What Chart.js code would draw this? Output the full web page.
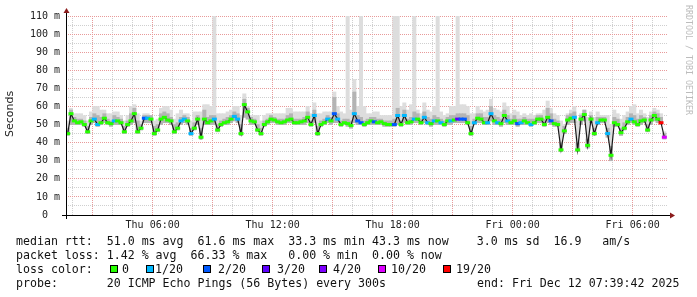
<!DOCTYPE html>
<html>
<head>
<meta charset="utf-8">
<script src="https://cdn.jsdelivr.net/npm/chart.js@4.4.1/dist/chart.umd.min.js"></script>
<style>
html, body { margin: 0; padding: 0; background: #fff; }
#wrap { position: relative; width: 697px; height: 297px; overflow: hidden; }
#c { position: absolute; left: 0; top: 0; }
.t { position: absolute; font-family: "DejaVu Sans Mono", monospace; font-size: 11.6px; line-height: 14px; white-space: pre; color: #111; }
.sq { position: absolute; width: 6px; height: 6px; border: 1px solid #000; }
</style>
</head>
<body>
<div id="wrap">
  <canvas id="c" width="697" height="297"></canvas>
</div>
<script>
// 10 minute steps, Thu 01:40 .. Fri 07:40
const startHour = 1 + 40 / 60;
const stepHours = 10 / 60;

const median = [
  45, 56, 52, 51, 51.5, 50, 46, 52, 53, 50,
  51, 53.5, 51, 50.5, 52, 52, 51, 46, 50, 52,
  56, 46, 48, 53.5, 53.5, 53, 45, 47, 53, 54,
  52.5, 52, 46, 48, 52, 53, 52, 45, 48, 53,
  43, 53, 51, 52, 53, 47, 50, 51, 51.5, 53,
  54.5, 53, 45, 61, 57, 52, 51.5, 47, 45, 50,
  51.5, 53, 52.5, 51.5, 51, 51.5, 52.5, 53, 51, 51,
  51.5, 52, 54, 50, 55, 45, 50, 51, 53, 52,
  56, 53, 50, 51, 50.5, 49.5, 56, 52, 51, 50,
  51, 52, 51.5, 51, 51.5, 50.5, 50, 50, 50, 55,
  50, 55, 51, 51.5, 53, 53, 51, 54, 51, 50.5,
  52, 52, 51, 50, 52, 52, 52.5, 53, 53, 53,
  51, 45, 51, 53.5, 53, 51, 51, 56, 52, 51,
  50.5, 55, 52, 51, 52, 50.5, 51, 52, 51, 50,
  51, 53, 53, 50, 54, 52, 50.5, 50, 36, 46.5,
  52.5, 53.5, 54, 36, 53, 55.5, 38.5, 53, 45, 51,
  52.5, 52.5, 45, 33, 51, 50, 45.5, 48, 51.5, 53,
  51.5, 50, 52, 52.5, 47, 52.5, 55, 53, 51, 43
];

// lost pings out of 20
const loss = [
  0, 0, 0, 0, 0, 0, 0, 0, 1, 1,
  0, 0, 0, 0, 1, 0, 0, 0, 0, 0,
  0, 0, 0, 2, 1, 0, 0, 0, 0, 0,
  0, 0, 0, 0, 1, 1, 0, 1, 0, 0,
  0, 0, 0, 0, 1, 0, 0, 0, 0, 0,
  1, 1, 0, 0, 0, 0, 0, 0, 0, 0,
  0, 0, 0, 0, 0, 0, 0, 0, 0, 0,
  0, 0, 0, 0, 1, 0, 0, 0, 1, 0,
  2, 1, 0, 0, 0, 0, 1, 2, 2, 0,
  0, 0, 2, 0, 0, 0, 0, 0, 2, 1,
  0, 1, 0, 0, 1, 0, 0, 1, 1, 0,
  1, 0, 1, 0, 0, 1, 0, 3, 2, 2,
  0, 0, 1, 0, 0, 0, 1, 1, 0, 1,
  0, 0, 1, 0, 0, 2, 1, 0, 0, 1,
  0, 0, 0, 0, 0, 2, 0, 0, 0, 0,
  0, 0, 1, 0, 0, 0, 0, 0, 0, 1,
  0, 0, 1, 0, 0, 0, 0, 0, 0, 1,
  0, 0, 0, 0, 0, 0, 0, 0, 19, 10
];

const smokeLo = [
  44, 50, 50, 50, 50, 49, 45, 50, 51, 49,
  50, 51, 50, 49, 50, 50, 50, 45, 49, 50,
  51, 45, 47, 51, 51, 51, 44, 46, 50, 51,
  51, 50, 45, 47, 50, 51, 50, 44, 47, 50,
  42, 50, 50, 50, 50, 46, 49, 50, 50, 51,
  52, 51, 44, 54, 53, 50, 50, 46, 44, 49,
  50, 51, 51, 50, 50, 50, 51, 51, 50, 50,
  50, 50, 51, 49, 51, 44, 49, 50, 51, 50,
  51, 51, 49, 50, 49, 48, 51, 50, 50, 49,
  50, 50, 50, 50, 50, 49, 49, 49, 49, 50,
  49, 51, 50, 50, 51, 51, 50, 51, 50, 49,
  50, 50, 50, 49, 50, 50, 51, 51, 51, 51,
  50, 44, 50, 51, 51, 50, 50, 52, 50, 50,
  49, 51, 50, 50, 50, 49, 50, 50, 50, 49,
  50, 51, 51, 49, 51, 50, 49, 49, 35, 45,
  50, 51, 51, 35, 50, 52, 37, 51, 44, 50,
  51, 51, 43, 30, 49, 49, 44, 47, 50, 51,
  50, 49, 50, 51, 46, 50, 52, 51, 50, 42
];

const smokeMid = [
  48, 58, 54, 53, 53, 52, 49, 54, 56, 55,
  54, 56, 53, 52, 55, 54, 53, 49, 52, 56,
  59, 52, 50, 55, 55, 55, 49, 50, 56, 57,
  56, 54, 50, 51, 54, 55, 54, 48, 51, 55,
  48, 58, 54, 55, 55, 50, 52, 53, 54, 55,
  57, 56, 50, 64, 59, 54, 53, 50, 48, 52,
  53, 55, 54, 53, 53, 53, 55, 56, 53, 53,
  53, 54, 57, 52, 58, 49, 52, 53, 55, 54,
  65, 56, 52, 53, 53, 52, 68, 55, 54, 52,
  53, 54, 54, 53, 53, 52, 52, 52, 53, 59,
  52, 58, 53, 54, 57, 56, 53, 57, 54, 53,
  55, 54, 53, 52, 54, 55, 55, 56, 56, 56,
  55, 49, 53, 56, 56, 54, 54, 60, 55, 54,
  53, 58, 55, 53, 55, 53, 53, 54, 53, 53,
  53, 55, 55, 53, 59, 56, 53, 52, 40, 49,
  55, 56, 57, 40, 55, 58, 42, 55, 48, 54,
  54, 54, 48, 38, 54, 53, 48, 51, 54, 56,
  55, 53, 55, 54, 50, 55, 57, 56, 54, 45
];

const smokeHi = [
  52, 59, 56, 56, 56, 55, 52, 57, 60, 60,
  58, 58, 56, 56, 57, 57, 55, 52, 55, 60,
  61, 56, 52, 56, 56, 55, 52, 53, 59, 60,
  60, 58, 53, 56, 58, 56, 56, 52, 57, 57,
  57, 61, 61, 60, 110, 56, 56, 56, 57, 58,
  60, 60, 55, 67, 60, 55, 55, 55, 52, 55,
  56, 56, 56, 56, 56, 56, 59, 59, 57, 57,
  57, 57, 60, 56, 62, 56, 56, 57, 57, 57,
  68, 60, 57, 56, 110, 58, 75, 60, 110, 60,
  56, 56, 57, 57, 55, 55, 55, 55, 110, 110,
  60, 62, 58, 61, 110, 58, 56, 62, 58, 57,
  60, 110, 57, 55, 56, 60, 60, 110, 61, 61,
  60, 56, 56, 60, 58, 57, 58, 64, 59, 58,
  57, 62, 60, 56, 58, 57, 55, 56, 55, 56,
  55, 56, 56, 58, 63, 59, 56, 55, 52, 50,
  56, 58, 60, 52, 56, 58, 54, 57, 54, 57,
  55, 55, 55, 50, 58, 56, 53, 55, 57, 60,
  61, 56, 58, 56, 54, 57, 59, 58, 56, 46
];

const xTickHours = [6, 12, 18, 24, 30];
const xTickLabels = ['Thu 06:00', 'Thu 12:00', 'Thu 18:00', 'Fri 00:00', 'Fri 06:00'];
const yTickValues = [0, 10, 20, 30, 40, 50, 60, 70, 80, 90, 100, 110];
const yTickLabels = ['0  ', '10 m', '20 m', '30 m', '40 m', '50 m', '60 m', '70 m', '80 m', '90 m', '100 m', '110 m'];
const yTitle = 'Seconds';
const creditText = 'RRDTOOL / TOBI OETIKER';

const lossLevels = [0, 1, 2, 3, 4, 10, 19];
const lossLabels = ['0', '1/20', '2/20', '3/20', '4/20', '10/20', '19/20'];
const lossColors = ['#26ff00', '#00b8ff', '#0059ff', '#5e00ff', '#7e00ff', '#dd00ff', '#ff0000'];

const statLines = [
  'median rtt:  51.0 ms avg  61.6 ms max  33.3 ms min 43.3 ms now    3.0 ms sd  16.9   am/s',
  'packet loss: 1.42 % avg  66.33 % max   0.00 % min  0.00 % now',
  'loss color:',
  'probe:       20 ICMP Echo Pings (56 Bytes) every 300s'
];
const endText = 'end: Fri Dec 12 07:39:42 2025';

function lossColor(n) {
  let c = lossColors[0];
  lossLevels.forEach((lv, k) => { if (n >= lv) c = lossColors[k]; });
  return c;
}

const xs = median.map((_, i) => startHour + (i + 0.5) * stepHours);

// axis lines, arrow heads, and the two rotated captions
const rrdAxes = {
  id: 'rrdAxes',
  afterDatasetsDraw(chart) {
    const { ctx, chartArea: a } = chart;
    ctx.save();
    ctx.strokeStyle = '#000';
    ctx.lineWidth = 1;
    ctx.beginPath();
    ctx.moveTo(a.left - 4, a.bottom + 0.5);
    ctx.lineTo(a.right + 2, a.bottom + 0.5);
    ctx.moveTo(a.left + 0.5, a.bottom + 4);
    ctx.lineTo(a.left + 0.5, a.top - 3);
    ctx.stroke();
    ctx.fillStyle = '#8b1c1c';
    ctx.beginPath();
    ctx.moveTo(a.left + 0.5, a.top - 8);
    ctx.lineTo(a.left - 2.5, a.top - 3);
    ctx.lineTo(a.left + 3.5, a.top - 3);
    ctx.closePath();
    ctx.fill();
    ctx.beginPath();
    ctx.moveTo(a.right + 7, a.bottom + 0.5);
    ctx.lineTo(a.right + 2, a.bottom - 2.5);
    ctx.lineTo(a.right + 2, a.bottom + 3.5);
    ctx.closePath();
    ctx.fill();

    ctx.textAlign = 'center';
    ctx.textBaseline = 'middle';
    ctx.save();
    ctx.translate(10, 114);
    ctx.rotate(-Math.PI / 2);
    ctx.fillStyle = '#222';
    ctx.font = '11px "DejaVu Sans"';
    ctx.fillText(yTitle, 0, 0);
    ctx.restore();
    ctx.save();
    ctx.translate(688, 60);
    ctx.rotate(Math.PI / 2);
    ctx.fillStyle = '#bcbcbc';
    ctx.font = '8.3px "DejaVu Sans Mono"';
    ctx.fillText(creditText, 0, 0);
    ctx.restore();
    ctx.restore();
  }
};

const gridDash = [1, 1];

new Chart(document.getElementById('c'), {
  type: 'line',
  data: {
    datasets: [
      {
        type: 'line',
        label: 'median',
        data: median.map((v, i) => ({ x: xs[i], y: v })),
        borderColor: '#1a1a1a',
        borderWidth: 1.2,
        tension: 0,
        pointStyle: 'line',
        pointRadius: 2.5,
        pointBorderWidth: 3,
        pointBorderColor: (c) => lossColor(loss[c.dataIndex]),
        pointBackgroundColor: (c) => lossColor(loss[c.dataIndex]),
        pointHoverRadius: 2.5,
        order: 1
      },
      {
        type: 'bar',
        label: 'smoke core',
        data: smokeMid.map((v, i) => ({ x: xs[i], y: [smokeLo[i], v] })),
        backgroundColor: '#b4b4b4',
        borderWidth: 0,
        grouped: false,
        barPercentage: 1,
        categoryPercentage: 1,
        order: 2
      },
      {
        type: 'bar',
        label: 'smoke',
        data: smokeHi.map((v, i) => ({ x: xs[i], y: [smokeLo[i], v] })),
        backgroundColor: '#dddddd',
        borderWidth: 0,
        grouped: false,
        barPercentage: 1,
        categoryPercentage: 1,
        order: 3
      }
    ]
  },
  options: {
    responsive: false,
    animation: false,
    layout: { padding: { top: 16, left: 0, right: 29, bottom: 0 } },
    plugins: { legend: { display: false }, tooltip: { enabled: false } },
    scales: {
      x: {
        type: 'linear',
        min: startHour,
        max: startHour + 30.1,
        offset: false,
        afterFit: (s) => { s.height = 82; },
        border: { display: false, dash: gridDash },
        grid: {
          offset: false,
          drawTicks: false,
          lineWidth: 1,
          color: (c) => (c.tick && Math.round(c.tick.value) % 3 === 0) ? '#e89a9a' : '#cfcfcf'
        },
        ticks: {
          stepSize: 1,
          includeBounds: false,
          autoSkip: false,
          maxRotation: 0,
          padding: 4,
          color: '#222',
          font: { family: 'DejaVu Sans Mono', size: 10 },
          callback: (v) => {
            const k = xTickHours.indexOf(Math.round(v));
            return k >= 0 ? xTickLabels[k] : '';
          }
        }
      },
      y: {
        min: 0,
        max: 110,
        afterFit: (s) => { s.width = 66; },
        border: { display: false, dash: gridDash },
        grid: {
          drawTicks: false,
          lineWidth: 1,
          color: (c) => (c.tick && c.tick.value % 10 === 0) ? '#e89a9a' : '#cfcfcf'
        },
        ticks: {
          stepSize: 5,
          autoSkip: false,
          padding: 6,
          color: '#222',
          font: { family: 'DejaVu Sans Mono', size: 10 },
          callback: (v) => {
            const k = yTickValues.indexOf(v);
            return k >= 0 ? yTickLabels[k] : '';
          }
        }
      }
    }
  },
  plugins: [rrdAxes]
});

// text block under the graph
const wrap = document.getElementById('wrap');
function addText(str, left, top) {
  const d = document.createElement('div');
  d.className = 't';
  d.style.left = left + 'px';
  d.style.top = top + 'px';
  d.textContent = str;
  wrap.appendChild(d);
}
statLines.forEach((s, k) => addText(s, 16, 234 + k * 14));
addText(endText, 477, 234 + 3 * 14);

const swatchX = [110, 146, 203, 262, 319, 378, 443];
const labelX = [122, 155, 218, 277, 333, 391, 456];
lossLabels.forEach((lab, k) => {
  const sq = document.createElement('div');
  sq.className = 'sq';
  sq.style.left = swatchX[k] + 'px';
  sq.style.top = '265px';
  sq.style.background = lossColors[k];
  wrap.appendChild(sq);
  addText(lab, labelX[k], 234 + 2 * 14);
});
</script>
</body>
</html>
